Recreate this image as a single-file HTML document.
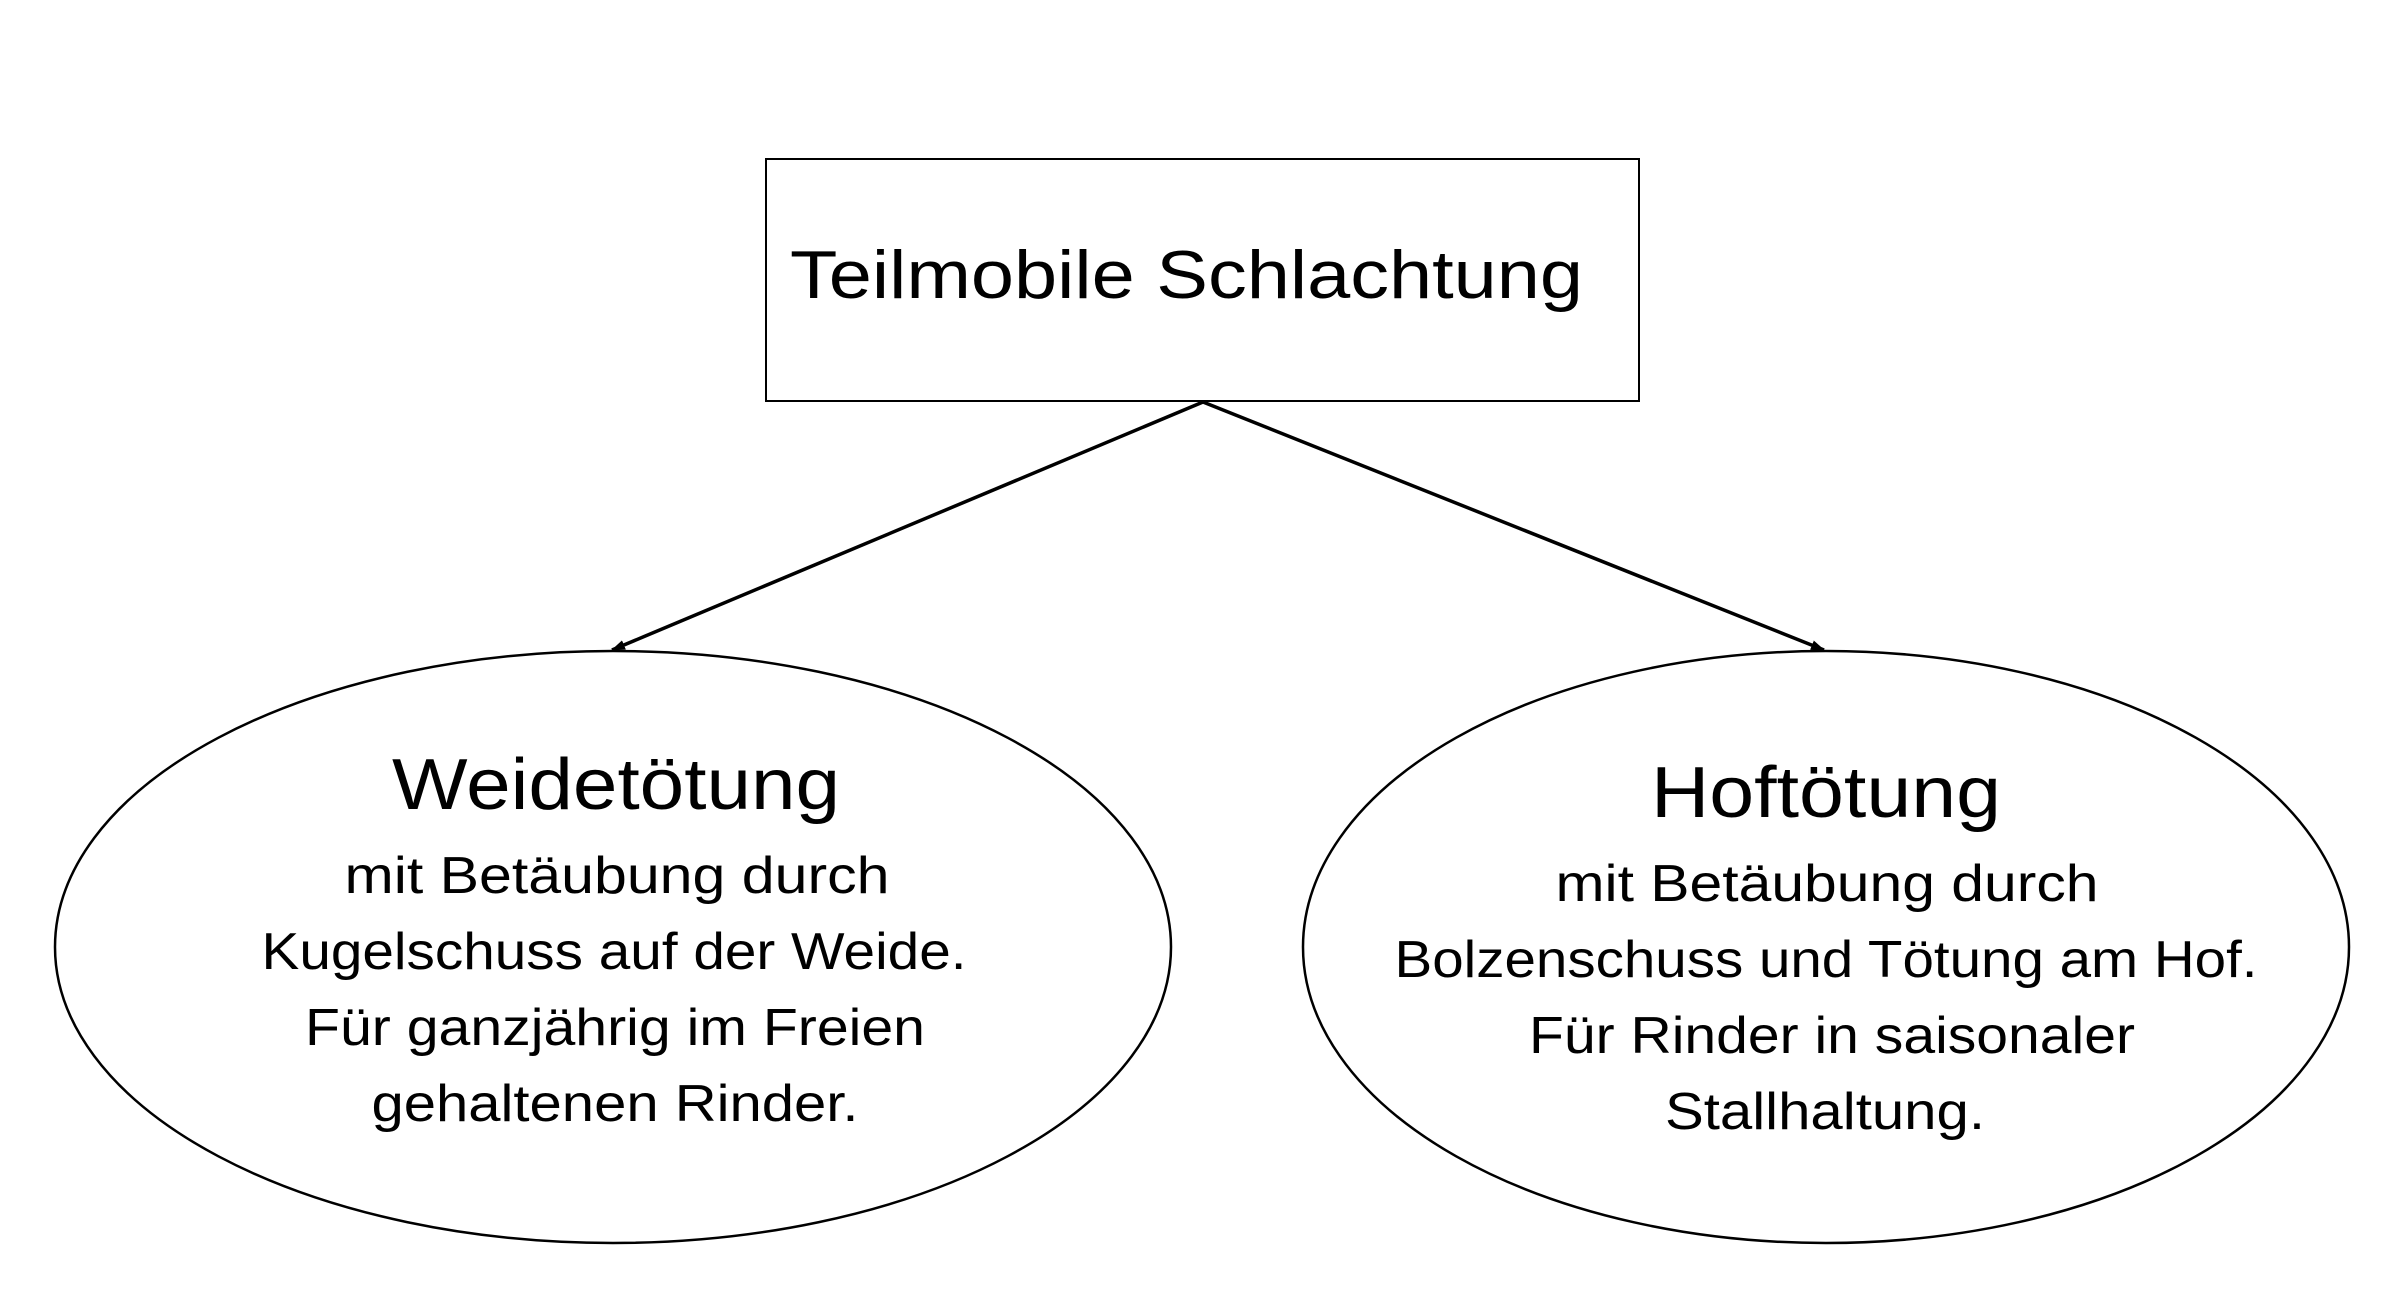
<!DOCTYPE html>
<html><head><meta charset="utf-8"><style>html,body{margin:0;padding:0;background:#fff}svg{display:block}</style></head>
<body>
<svg width="2400" height="1316" viewBox="0 0 2400 1316" xmlns="http://www.w3.org/2000/svg" font-family="'Liberation Sans', sans-serif" fill="#000">
<defs><marker id="a" markerWidth="14" markerHeight="10" refX="13" refY="5" orient="auto" markerUnits="userSpaceOnUse"><path d="M0,0 L14,5 L0,10 Z" fill="#000"/></marker></defs>
<rect x="766" y="159" width="873" height="242" fill="none" stroke="#000" stroke-width="2"/>
<text x="790" y="298" font-size="68" textLength="793" lengthAdjust="spacingAndGlyphs">Teilmobile Schlachtung</text>
<line x1="1203" y1="402" x2="612" y2="650" stroke="#000" stroke-width="3.5" marker-end="url(#a)"/>
<line x1="1203" y1="402" x2="1824" y2="650" stroke="#000" stroke-width="3.5" marker-end="url(#a)"/>
<ellipse cx="613" cy="947" rx="558" ry="296" fill="none" stroke="#000" stroke-width="2.5"/>
<ellipse cx="1826" cy="947" rx="523" ry="296" fill="none" stroke="#000" stroke-width="2.5"/>
<g text-anchor="middle">
<text x="616" y="809" font-size="72" textLength="448" lengthAdjust="spacingAndGlyphs">Weidetötung</text>
<text x="617" y="893" font-size="52" textLength="545" lengthAdjust="spacingAndGlyphs">mit Betäubung durch</text>
<text x="614" y="969" font-size="52" textLength="705" lengthAdjust="spacingAndGlyphs">Kugelschuss auf der Weide.</text>
<text x="615" y="1045" font-size="52" textLength="620" lengthAdjust="spacingAndGlyphs">Für ganzjährig im Freien</text>
<text x="615" y="1121" font-size="52" textLength="487" lengthAdjust="spacingAndGlyphs">gehaltenen Rinder.</text>
<text x="1826" y="817" font-size="72" textLength="350" lengthAdjust="spacingAndGlyphs">Hoftötung</text>
<text x="1827" y="901" font-size="52" textLength="543" lengthAdjust="spacingAndGlyphs">mit Betäubung durch</text>
<text x="1826" y="977" font-size="52" textLength="863" lengthAdjust="spacingAndGlyphs">Bolzenschuss und Tötung am Hof.</text>
<text x="1832" y="1053" font-size="52" textLength="606" lengthAdjust="spacingAndGlyphs">Für Rinder in saisonaler</text>
<text x="1825" y="1129" font-size="52" textLength="320" lengthAdjust="spacingAndGlyphs">Stallhaltung.</text>
</g>
</svg>
</body></html>
